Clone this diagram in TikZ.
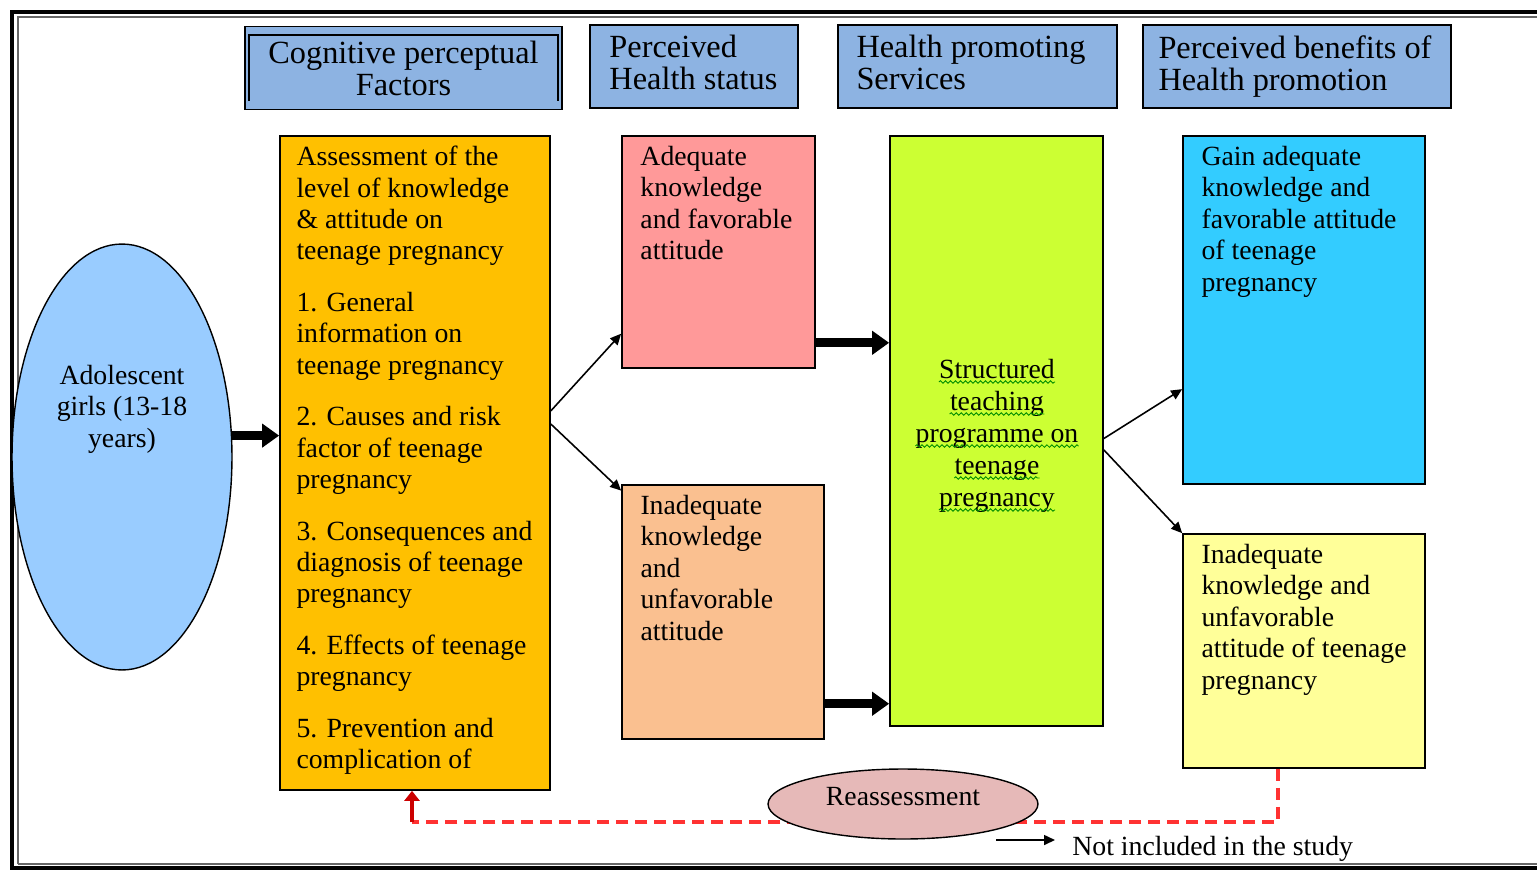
\documentclass[tikz,border=0pt]{standalone}
\usepackage{fontspec}
\setmainfont{Liberation Serif}
\usetikzlibrary{shapes.geometric,arrows.meta,positioning,decorations.pathmorphing}

\definecolor{headblue}{RGB}{141,179,226}
\definecolor{girlblue}{RGB}{153,204,255}
\definecolor{assessorange}{RGB}{255,192,0}
\definecolor{adeqpink}{RGB}{255,153,153}
\definecolor{inadeqpeach}{RGB}{250,192,144}
\definecolor{stpgreen}{RGB}{204,255,51}
\definecolor{gainblue}{RGB}{51,204,255}
\definecolor{notgainyellow}{RGB}{255,255,153}
\definecolor{reassesspink}{RGB}{230,185,184}
\definecolor{dashred}{RGB}{255,50,50}

\newcommand{\bodysize}{\fontsize{15.8}{17.9}\selectfont}
\newcommand{\headsize}{\fontsize{18.4}{18.2}\selectfont}

\begin{document}
\begin{tikzpicture}[x=0.02cm, y=-0.02cm,
	headbox/.style={rectangle, draw, line width=1pt, fill=headblue, minimum height=1.66cm, inner sep=0pt, font=\headsize},
	mainbox/.style={rectangle, draw, line width=1pt, inner sep=0pt},
	txt/.style={inner sep=0pt, align=left, font=\bodysize},
	htxt/.style={inner sep=0pt, align=left, font=\headsize},
	fat/.style={line width=0.18cm, -{Triangle[length=0.34cm, width=0.46cm]}},
	thinarr/.style={line width=0.9pt, -{Triangle[length=0.22cm, width=0.2cm]}},
	backline/.style={draw=dashred, line width=1.8pt, dash pattern=on 0.24cm off 0.14cm},
	redup/.style={draw=red!80!black, line width=2.2pt, -{Triangle[length=0.2cm, width=0.3cm]}},
	spell/.style={draw=green!55!black, line width=0.5pt, decorate, decoration={snake, amplitude=0.025cm, segment length=0.1cm}}
	]
	\useasboundingbox (0,0) rectangle (1537,869);
	\fill[white] (0,0) rectangle (1537,869);
	\clip (0,0) rectangle (1537,869);
	
	% frame
	\draw[line width=2.2pt] (12,880) -- (12,12) -- (1550,12);
	\draw[line width=2.2pt] (12,868) -- (1550,868);
	\draw[line width=0.7pt, black!60] (18,864) -- (18,17) -- (1550,17);
	\draw[line width=0.7pt, black!60] (18,864) -- (1550,864);
	
	% headings
	\node[headbox, minimum width=6.34cm, align=center] (hcog) at (403.5,68) {Cognitive perceptual\\Factors};
	\draw[line width=1pt] ([shift={(0.1cm,-1.5cm)}]hcog.north west) -- ([shift={(0.1cm,-0.18cm)}]hcog.north west)
		-- ([shift={(-0.1cm,-0.18cm)}]hcog.north east) -- ([shift={(-0.1cm,-1.5cm)}]hcog.north east);
	\node[headbox, minimum width=4.16cm] (hstatus) at (694,66.5) {};
	\node[htxt, below right=0.22cm and 0.4cm of hstatus.north west] (hstatustxt) {Perceived\\Health status};
	\node[headbox, minimum width=5.58cm] (hservice) at (977.5,66.5) {};
	\node[htxt, below right=0.22cm and 0.38cm of hservice.north west] (hservicetxt) {Health promoting\\Services};
	\node[headbox, minimum width=6.16cm] (hbenefit) at (1297,66.5) {};
	\node[htxt, below right=0.22cm and 0.32cm of hbenefit.north west] (hbenefittxt) {Perceived benefits of\\Health promotion};
	
	% sample
	\node[ellipse, draw, line width=0.8pt, fill=girlblue, minimum width=4.4cm, minimum height=8.52cm, inner sep=0pt] (girls) at (122,457) {};
	\node[txt, align=center] (girlstxt) at ([yshift=0.96cm]girls.center) {Adolescent\\girls (13-18\\years)};
	
	% pre test
	\node[mainbox, fill=assessorange, minimum width=5.4cm, minimum height=13.08cm] (assess) at (415,463) {};
	\node[txt, below right=0.21cm and 0.34cm of assess.north west] (assesstxt) {Assessment of the\\level of knowledge\\\& attitude on\\teenage pregnancy\\[0.4cm]
		1. General\\information on\\teenage pregnancy\\[0.4cm]
		2. Causes and risk\\factor of teenage\\pregnancy\\[0.4cm]
		3. Consequences and\\diagnosis of teenage\\pregnancy\\[0.4cm]
		4. Effects of teenage\\pregnancy\\[0.4cm]
		5. Prevention and\\complication of};
	
	% health status
	\node[mainbox, fill=adeqpink, minimum width=3.86cm, minimum height=4.64cm] (adequate) at (718.5,252) {};
	\node[txt, below right=0.21cm and 0.38cm of adequate.north west] (adequatetxt) {Adequate\\knowledge\\and favorable\\attitude};
	\node[mainbox, fill=inadeqpeach, minimum width=4.04cm, minimum height=5.08cm] (inadequate) at (723,612) {};
	\node[txt, below right=0.21cm and 0.38cm of inadequate.north west] (inadequatetxt) {Inadequate\\knowledge\\and\\unfavorable\\attitude};
	
	% teaching programme
	\node[mainbox, fill=stpgreen, minimum width=4.26cm, minimum height=11.8cm] (stp) at (996.5,431) {};
	\foreach \w [count=\i] in {Structured, teaching, programme on, teenage, pregnancy}
	{
		\node[txt, anchor=base] (stp\i) at (997,{346+32*\i}) {\w};
		\draw[spell] ([yshift=-0.08cm]stp\i.base west) -- ([yshift=-0.08cm]stp\i.base east);
	}
	
	% benefits
	\node[mainbox, fill=gainblue, minimum width=4.84cm, minimum height=6.96cm] (gain) at (1304,310) {};
	\node[txt, below right=0.21cm and 0.38cm of gain.north west] (gaintxt) {Gain adequate\\knowledge and\\favorable attitude\\of teenage\\pregnancy};
	\node[mainbox, fill=notgainyellow, minimum width=4.84cm, minimum height=4.68cm] (notgain) at (1304,651) {};
	\node[txt, below right=0.21cm and 0.38cm of notgain.north west] (notgaintxt) {Inadequate\\knowledge and\\unfavorable\\attitude of teenage\\pregnancy};
	
	% arrows
	\draw[fat] (girls.11) -- (girls.11 -| assess.west);
	\draw[thinarr] (assess.21) -- (adequate.220);
	\draw[thinarr] (assess.16) -- (inadequate.130);
	\draw[fat] (adequate.-43) -- (adequate.-43 -| stp.west);
	\draw[fat] (inadequate.-42) -- (inadequate.-42 -| stp.west);
	\draw[thinarr] (stp.-4) -- (gain.213);
	\draw[thinarr] (stp.-10) -- (notgain.north west);
	
	% reassessment loop
	\coordinate (loopR) at (1278,822);
	\coordinate (loopL) at (412,822);
	\draw[backline] (notgain.south -| loopR) -- (loopR) -- (loopL);
	\draw[redup] (loopL) -- (loopL |- assess.south);
	\node[ellipse, draw, line width=0.8pt, fill=reassesspink, minimum width=5.4cm, minimum height=1.4cm, inner sep=0pt] (reassess) at (903,804) {};
	\node[txt] (reassesstxt) at ([yshift=0.14cm]reassess.center) {Reassessment};
	
	% legend
	\coordinate (legtail) at (996,840);
	\coordinate (leghead) at (1055,840);
	\draw[thinarr] (legtail) -- (leghead);
	\node[txt, anchor=west] (legend) at (1072,849) {Not included in the study};
\end{tikzpicture}
\end{document}
